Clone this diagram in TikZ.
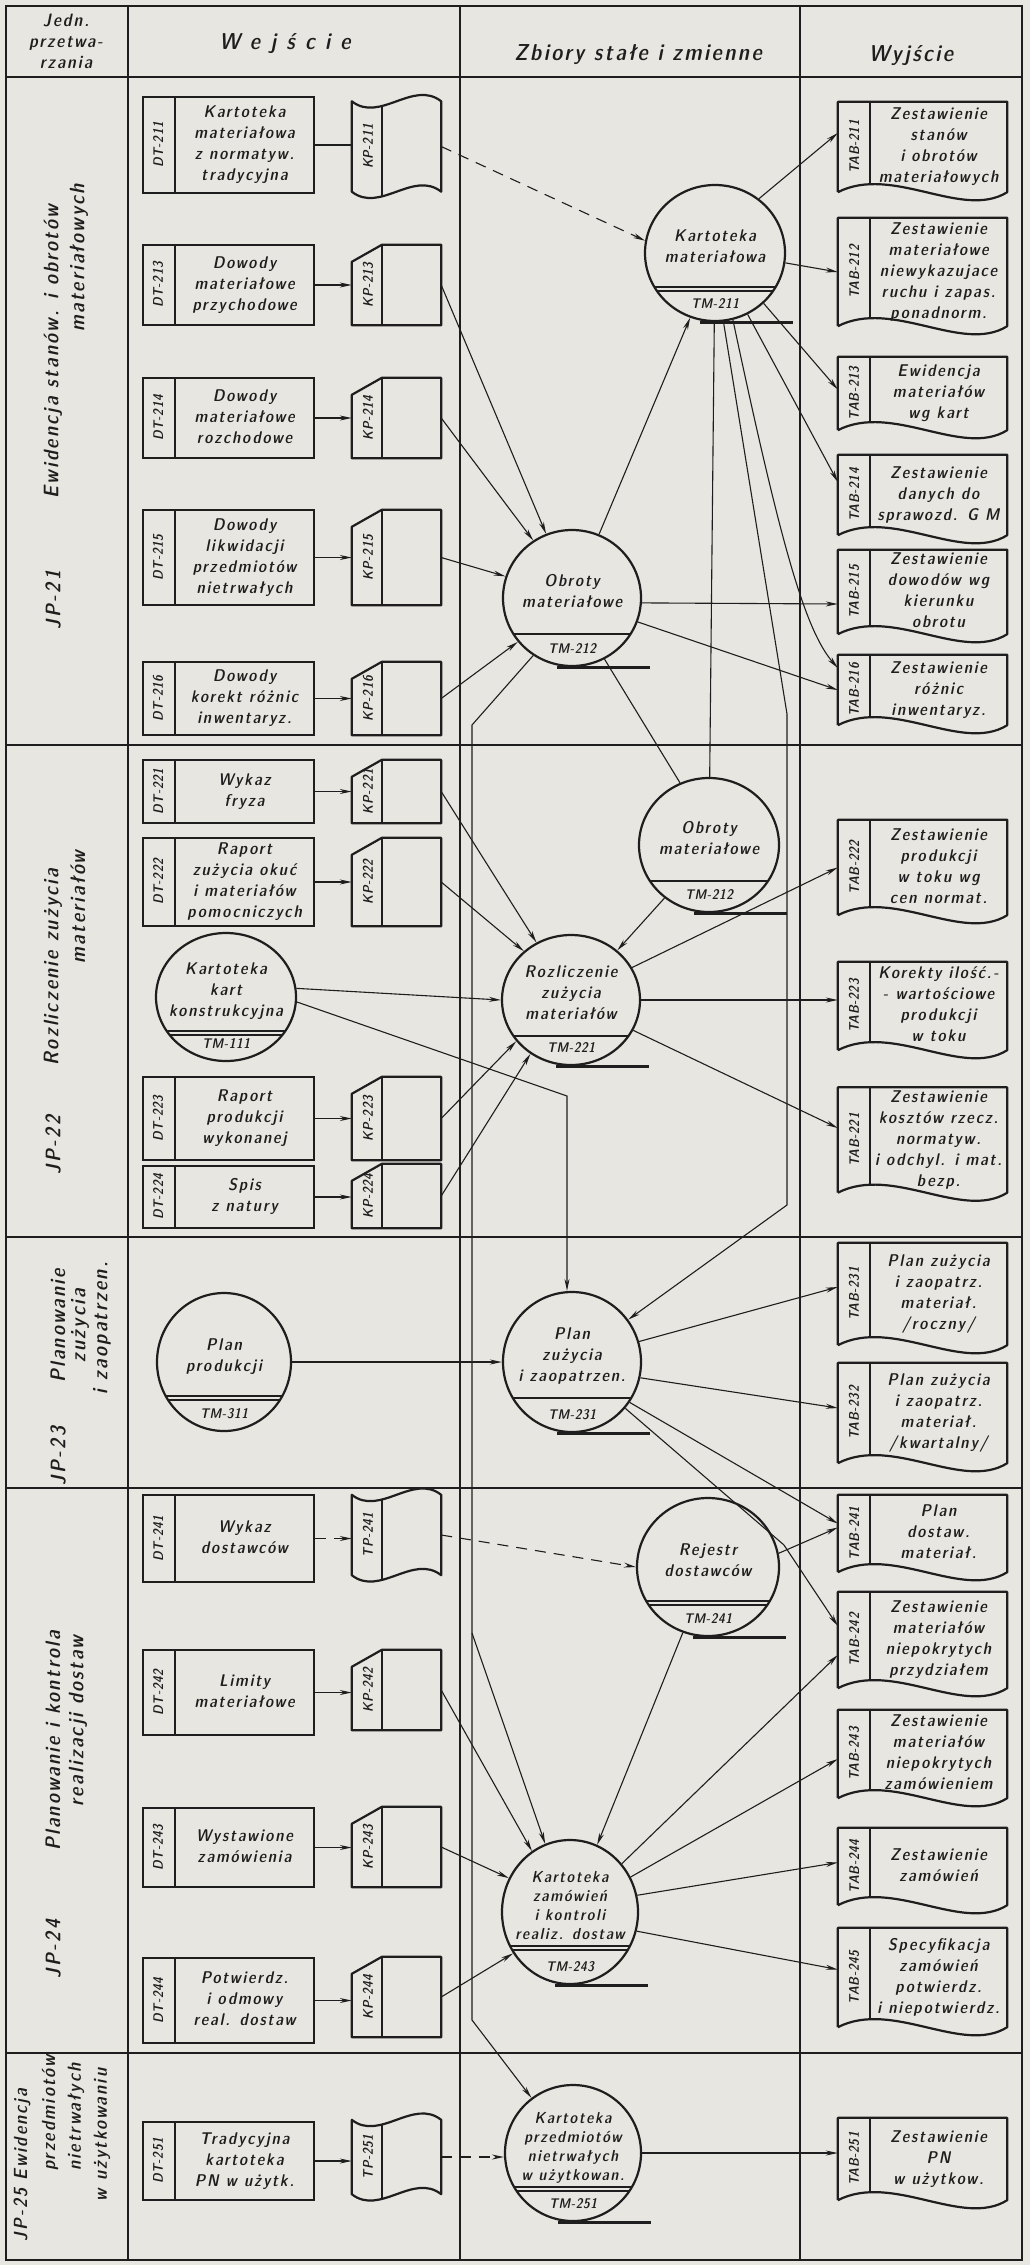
\documentclass[tikz,border=0pt]{standalone}
\usepackage{fontspec}
\usetikzlibrary{arrows.meta,shapes.geometric}

\newfontfamily\stencil{lmsansdemicond10-regular}[Extension=.otf,FakeSlant=0.2,LetterSpace=11]
\newcommand{\txt}{\stencil\fontsize{17}{21}\selectfont}
\newcommand{\smalltxt}{\stencil\fontsize{16}{19}\selectfont}
\newcommand{\codetxt}{\stencil\fontsize{14}{16}\selectfont\addfontfeatures{LetterSpace=4}}
\newcommand{\jptxt}{\stencil\fontsize{21}{25}\selectfont}
\newcommand{\headtxt}{\stencil\fontsize{23}{27}\selectfont}
\newcommand{\inbox}[1]{\hspace*{32pt}\begin{tabular}{@{}c@{}}#1\end{tabular}}

\definecolor{paper}{RGB}{232,230,224}
\definecolor{ink}{RGB}{30,30,30}

\tikzset{
  gridline/.style={draw=ink, line width=2pt},
  shapeline/.style={draw=ink, line width=2.2pt, line join=round},
  stripline/.style={draw=ink, line width=1.4pt},
  tapeline/.style={draw=ink, line width=3pt},
  flow/.style={draw=ink, line width=1.1pt, -{Stealth[length=12pt,width=5pt]}},
  dflow/.style={flow, dash pattern=on 11pt off 8pt},
  link/.style={draw=ink, line width=1.1pt},
  strip/.style={rotate=90, anchor=north, inner sep=0pt, minimum height=32pt, font=\codetxt, text=ink},
  idcode/.style={label={[strip]west:#1}},
  dtbox/.style={draw=ink, line width=2.2pt, rectangle, inner sep=0pt, minimum width=171pt,
    minimum height=#1, font=\txt, text=ink,
    path picture={\draw[stripline] ([xshift=32pt]path picture bounding box.north west)
      -- ([xshift=32pt]path picture bounding box.south west);}},
  card/.style={rectangle, inner sep=0pt, minimum width=89pt, minimum height=#1},
  tabdoc/.style={rectangle, inner sep=0pt, minimum width=169pt, minimum height=#1, font=\txt, text=ink},
  tmcode/.style={label distance=-24pt, inner sep=0pt, font=\codetxt, text=ink},
  tmfile/.style={ellipse, draw=ink, line width=2.2pt, inner sep=-45pt, align=center, text depth=14pt,
    font=\txt, text=ink, label={[tmcode]-90:#1},
    path picture={\draw[stripline] ([xshift=-100pt,yshift=-36pt]path picture bounding box.center) -- ++(200pt,0pt);}},
  tmfile2/.style={tmfile=#1,
    path picture={\draw[stripline] ([xshift=-100pt,yshift=-34pt]path picture bounding box.center) -- ++(200pt,0pt)
      ([xshift=-100pt,yshift=-38pt]path picture bounding box.center) -- ++(200pt,0pt);}},
  jplabel/.style={rotate=90, inner sep=0pt, font=\jptxt, text=ink},
  headtext/.style={inner sep=0pt, font=\headtxt, text=ink, align=center},
}

\begin{document}
\begin{tikzpicture}[x=1pt,y=-1pt]
\useasboundingbox (0,0) rectangle (1030,2265);
\fill[paper] (0,0) rectangle (1030,2265);

% Table
\draw[gridline] (6,6) rectangle (1022,2260);
\draw[gridline] (6,77) -- (1022,77);
\foreach \ry in {745,1237,1488,2053}
  \draw[gridline] (6,\ry) -- (1022,\ry);
\foreach \cx in {128,460,800}
  \draw[gridline] (\cx,6) -- (\cx,2260);

% Headings
\node[headtext, font=\stencil\fontsize{18}{21}\selectfont] (hjedn) at (66,41) {Jedn.\\przetwa-\\rzania};
\node[headtext] (hin) at (285,44) {{\addfontfeatures{LetterSpace=45}Wejście}};
\node[headtext] (hfiles) at (638,55) {Zbiory stałe i zmienne};
\node[headtext] (hout) at (911,56) {Wyjście};

% Processing units
\node[jplabel] (jp21) at (53,600) {JP-21};
\node[jplabel] (jp21a) at (53,352) {Ewidencja stanów. i obrotów};
\node[jplabel] (jp21b) at (79,258) {materiałowych};
\node[jplabel] (jp22) at (53,1145) {JP-22};
\node[jplabel] (jp22a) at (53,967) {Rozliczenie zużycia};
\node[jplabel] (jp22b) at (78,907) {materiałów};
\node[jplabel] (jp23) at (58,1456) {JP-23};
\node[jplabel] (jp23a) at (58,1326) {Planowanie};
\node[jplabel] (jp23b) at (80,1326) {zużycia};
\node[jplabel] (jp23c) at (102,1328) {i zaopatrzen.};
\node[jplabel] (jp24) at (53,1949) {JP-24};
\node[jplabel] (jp24a) at (53,1741) {Planowanie i kontrola};
\node[jplabel] (jp24b) at (78,1721) {realizacji dostaw};
\node[jplabel, font=\stencil\fontsize{19}{23}\selectfont] (jp25) at (22,2165) {JP-25 Ewidencja};
\node[jplabel, font=\stencil\fontsize{19}{23}\selectfont] (jp25b) at (50,2113) {przedmiotów};
\node[jplabel, font=\stencil\fontsize{19}{23}\selectfont] (jp25c) at (76,2117) {nietrwałych};
\node[jplabel, font=\stencil\fontsize{19}{23}\selectfont] (jp25d) at (102,2135) {w użytkowaniu};

% Input documents
\node[dtbox=96pt, idcode=DT-211] (dt211) at (228.5,145) {\inbox{Kartoteka\\materiałowa\\z normatyw.\\tradycyjna}};
\node[dtbox=80pt, idcode=DT-213] (dt213) at (228.5,285) {\inbox{Dowody\\materiałowe\\przychodowe}};
\node[dtbox=80pt, idcode=DT-214] (dt214) at (228.5,418) {\inbox{Dowody\\materiałowe\\rozchodowe}};
\node[dtbox=95pt, idcode=DT-215] (dt215) at (228.5,557.5) {\inbox{Dowody\\likwidacji\\przedmiotów\\nietrwałych}};
\node[dtbox=73pt, idcode=DT-216] (dt216) at (228.5,698.5) {\inbox{Dowody\\korekt różnic\\inwentaryz.}};
\node[dtbox=63pt, idcode=DT-221] (dt221) at (228.5,791.5) {\inbox{Wykaz\\fryza}};
\node[dtbox=88pt, idcode=DT-222] (dt222) at (228.5,882) {\inbox{Raport\\zużycia okuć\\i materiałów\\pomocniczych}};
\node[dtbox=83pt, idcode=DT-223] (dt223) at (228.5,1118.5) {\inbox{Raport\\produkcji\\wykonanej}};
\node[dtbox=62pt, idcode=DT-224] (dt224) at (228.5,1197) {\inbox{Spis\\z natury}};
\node[dtbox=87pt, idcode=DT-241] (dt241) at (228.5,1538.5) {\inbox{Wykaz\\dostawców}};
\node[dtbox=85pt, idcode=DT-242] (dt242) at (228.5,1692.5) {\inbox{Limity\\materiałowe}};
\node[dtbox=79pt, idcode=DT-243] (dt243) at (228.5,1847.5) {\inbox{Wystawione\\zamówienia}};
\node[dtbox=85pt, idcode=DT-244] (dt244) at (228.5,2000.5) {\inbox{Potwierdz.\\i odmowy\\real. dostaw}};
\node[dtbox=78pt, idcode=DT-251] (dt251) at (228.5,2161) {\inbox{Tradycyjna\\kartoteka\\PN w użytk.}};

% Punched cards and tapes
\node[card=90pt, idcode=KP-211] (kp211) at (396.5,146.5) {};
\node[card=80pt, idcode=KP-213] (kp213) at (396.5,285) {};
\node[card=80pt, idcode=KP-214] (kp214) at (396.5,418) {};
\node[card=95pt, idcode=KP-215] (kp215) at (396.5,557.5) {};
\node[card=73pt, idcode=KP-216] (kp216) at (396.5,698.5) {};
\node[card=63pt, idcode=KP-221] (kp221) at (396.5,791.5) {};
\node[card=88pt, idcode=KP-222] (kp222) at (396.5,882) {};
\node[card=83pt, idcode=KP-223] (kp223) at (396.5,1118.5) {};
\node[card=64pt, idcode=KP-224] (kp224) at (396.5,1196) {};
\node[card=80pt, idcode=TP-241] (tp241) at (396.5,1535) {};
\node[card=80pt, idcode=KP-242] (kp242) at (396.5,1690) {};
\node[card=80pt, idcode=KP-243] (kp243) at (396.5,1847) {};
\node[card=80pt, idcode=KP-244] (kp244) at (396.5,1997) {};
\node[card=74pt, idcode=TP-251] (tp251) at (396.5,2157) {};

\foreach \nd in {kp213,kp214,kp215,kp216,kp221,kp222,kp223,kp224,kp242,kp243,kp244}{
  \draw[shapeline] ([yshift=-17pt]\nd.north west) -- ([xshift=30pt]\nd.north west) -- (\nd.north east)
    -- (\nd.south east) -- (\nd.south west) -- cycle;
  \draw[stripline] ([xshift=30pt]\nd.north west) -- ([xshift=30pt]\nd.south west);
}
\foreach \nd in {kp211,tp241,tp251}{
  \draw[shapeline] (\nd.north west) .. controls +(28pt,-22pt) and +(-28pt,22pt) .. (\nd.north east)
    -- (\nd.south east) .. controls +(-28pt,22pt) and +(28pt,-22pt) .. (\nd.south west) -- cycle;
  \draw[stripline] ([xshift=30pt,yshift=-5pt]\nd.north west) -- ([xshift=30pt,yshift=-5pt]\nd.south west);
}

% Files
\node[tmfile2=TM-211, minimum width=140pt, minimum height=136pt] (km211) at (715,253) {Kartoteka\\materiałowa};
\node[tmfile=TM-212, minimum width=138pt, minimum height=136pt] (ob212a) at (572,598) {Obroty\\materiałowe};
\node[tmfile=TM-212, minimum width=140pt, minimum height=134pt] (ob212b) at (709,845) {Obroty\\materiałowe};
\node[tmfile=TM-221, minimum width=138pt, minimum height=130pt] (rz221) at (571,1000) {Rozliczenie\\zużycia\\materiałów};
\node[tmfile2=TM-111, minimum width=140pt, minimum height=128pt] (kk111) at (226,997) {Kartoteka\\kart\\konstrukcyjna};
\node[tmfile2=TM-311, minimum width=134pt, minimum height=138pt] (pp311) at (224,1362) {Plan\\produkcji};
\node[tmfile=TM-231, minimum width=138pt, minimum height=140pt] (pz231) at (572,1362) {Plan\\zużycia\\i zaopatrzen.};
\node[tmfile2=TM-241, minimum width=142pt, minimum height=138pt] (rd241) at (708,1567) {Rejestr\\dostawców};
\node[tmfile2=TM-243, minimum width=136pt, minimum height=144pt, font=\smalltxt] (kz243) at (570,1912) {Kartoteka\\zamówień\\i kontroli\\realiz. dostaw};
\node[tmfile2=TM-251, minimum width=136pt, minimum height=136pt, font=\smalltxt] (kn251) at (573,2153) {Kartoteka\\przedmiotów\\nietrwałych\\w użytkowan.};

\foreach \nd in {km211,ob212a,ob212b,rz221,pz231,rd241,kz243,kn251}
  \draw[tapeline] ([xshift=-15pt]\nd.south) -- ([xshift=78pt]\nd.south);

% Output lists
\node[tabdoc=90pt, idcode=TAB-211] (tab211) at (922.5,147) {\inbox{Zestawienie\\stanów\\i obrotów\\materiałowych}};
\node[tabdoc=108pt, idcode=TAB-212] (tab212) at (922.5,272) {\inbox{Zestawienie\\materiałowe\\niewykazujace\\ruchu i zapas.\\ponadnorm.}};
\node[tabdoc=73pt, idcode=TAB-213] (tab213) at (922.5,393.5) {\inbox{Ewidencja\\materiałów\\wg kart}};
\node[tabdoc=80pt, idcode=TAB-214] (tab214) at (922.5,495) {\inbox{Zestawienie\\danych do\\sprawozd. G M}};
\node[tabdoc=80pt, idcode=TAB-215] (tab215) at (922.5,592) {\inbox{Zestawienie\\dowodów wg\\kierunku\\obrotu}};
\node[tabdoc=70pt, idcode=TAB-216] (tab216) at (922.5,690) {\inbox{Zestawienie\\różnic\\inwentaryz.}};
\node[tabdoc=95pt, idcode=TAB-222] (tab222) at (922.5,867.5) {\inbox{Zestawienie\\produkcji\\w toku wg\\cen normat.}};
\node[tabdoc=88pt, idcode=TAB-223] (tab223) at (922.5,1006) {\inbox{Korekty ilość.-\\- wartościowe\\produkcji\\w toku}};
\node[tabdoc=100pt, idcode=TAB-221] (tab221) at (922.5,1140) {\inbox{Zestawienie\\kosztów rzecz.\\normatyw.\\i odchyl. i mat.\\bezp.}};
\node[tabdoc=102pt, idcode=TAB-231] (tab231) at (922.5,1294) {\inbox{Plan zużycia\\i zaopatrz.\\materiał.\\/roczny/}};
\node[tabdoc=100pt, idcode=TAB-232] (tab232) at (922.5,1413) {\inbox{Plan zużycia\\i zaopatrz.\\materiał.\\/kwartalny/}};
\node[tabdoc=77pt, idcode=TAB-241] (tab241) at (922.5,1533.5) {\inbox{Plan\\dostaw.\\materiał.}};
\node[tabdoc=96pt, idcode=TAB-242] (tab242) at (922.5,1640) {\inbox{Zestawienie\\materiałów\\niepokrytych\\przydziałem}};
\node[tabdoc=88pt, idcode=TAB-243] (tab243) at (922.5,1754) {\inbox{Zestawienie\\materiałów\\niepokrytych\\zamówieniem}};
\node[tabdoc=77pt, idcode=TAB-244] (tab244) at (922.5,1866.5) {\inbox{Zestawienie\\zamówień}};
\node[tabdoc=99pt, idcode=TAB-245] (tab245) at (922.5,1977.5) {\inbox{Specyfikacja\\zamówień\\potwierdz.\\i niepotwierdz.}};
\node[tabdoc=82pt, idcode=TAB-251] (tab251) at (922.5,2159) {\inbox{Zestawienie\\PN\\w użytkow.}};

\foreach \nd in {tab211,tab212,tab213,tab214,tab215,tab216,tab222,tab223,tab221,tab231,tab232,
                 tab241,tab242,tab243,tab244,tab245,tab251}{
  \draw[shapeline] (\nd.south west) -- (\nd.north west) -- (\nd.north east) -- (\nd.south east)
    .. controls +(-45pt,-28pt) and +(55pt,28pt) .. (\nd.south west);
  \draw[stripline] ([xshift=32pt]\nd.north west) -- ([xshift=32pt,yshift=7pt]\nd.south west);
}

% Bends
\coordinate (bendA) at (787,714);
\coordinate (bendB) at (787,1205);
\coordinate (bendC) at (567,1096);
\coordinate (bendD) at (784,1545);
\coordinate (trunkA) at (472,725);
\coordinate (trunkB) at (472,1633);
\coordinate (trunkC) at (472,2020);

% JP-21 flows
\draw[link] (dt211.east) -- (dt211.east -| kp211.west);
\draw[dflow] (kp211.east) -- (km211.170);
\draw[flow] (dt213.east) -- (dt213.east -| kp213.west);
\draw[flow] (dt214.east) -- (dt214.east -| kp214.west);
\draw[flow] (dt215.east) -- (dt215.east -| kp215.west);
\draw[flow] (dt216.east) -- (dt216.east -| kp216.west);
\draw[flow] (kp213.east) -- (ob212a.112);
\draw[flow] (kp214.east) -- (ob212a.124);
\draw[flow] (kp215.east) -- (ob212a.162);
\draw[flow] (kp216.east) -- (ob212a.219);
\draw[flow] (ob212a.67) -- (km211.249);
\draw[flow] (km211.51) -- ([yshift=14pt]tab211.west);
\draw[flow] (km211.-8) -- (tab212.west);
\draw[flow] (km211.-46) -- ([yshift=4pt]tab213.west);
\draw[flow] (km211.-62) -- ([yshift=13pt]tab214.west);
\draw[flow] (km211.-75) .. controls +(-78:230pt) and +(131:50pt) .. ([yshift=22pt]tab216.west);
\draw[flow] (km211.-83) -- (bendA) -- (bendB) -- (pz231.37);
\draw[link] (km211) -- (ob212b);
\draw[flow] (ob212a.-4) -- ([yshift=-12pt]tab215.west);
\draw[flow] (ob212a.-20) -- (tab216.west);
\draw[link] (ob212a.-62) -- (ob212b.115);
\draw[flow] (ob212a.236) -- (trunkA) -- (trunkC) -- (kn251.127);
\draw[flow] (trunkB) -- (kz243.110);

% JP-22 flows
\draw[flow] (dt221.east) -- (dt221.east -| kp221.west);
\draw[flow] (dt222.east) -- (dt222.east -| kp222.west);
\draw[flow] (dt223.east) -- (dt223.east -| kp223.west);
\draw[flow] (dt224.east) -- (dt224.east -| kp224.west);
\draw[flow] (kp221.east) -- (rz221.121);
\draw[flow] (kp222.east) -- (rz221.134);
\draw[flow] (kk111.7) -- (rz221.180);
\draw[flow] (kk111.-4) -- (bendC) -- (bendC |- pz231.north);
\draw[flow] (kp223.east) -- (rz221.217);
\draw[flow] (kp224.east) -- (rz221.233);
\draw[flow] (ob212b.230) -- (rz221.47);
\draw[flow] (rz221.28) -- (tab222.west);
\draw[flow] (rz221.east) -- (rz221.east -| tab223.west);
\draw[flow] (rz221.-26) -- ([yshift=12pt]tab221.west);

% JP-23 flows
\draw[flow] (pp311.east) -- (pp311.east -| pz231.west);
\draw[flow] (pz231.17) -- ([yshift=7pt]tab231.west);
\draw[flow] (pz231.-13) -- ([yshift=5pt]tab232.west);
\draw[flow] (pz231.-35) -- ([yshift=10pt]tab241.west);
\draw[flow] (pz231.-41) -- (bendD) -- ([yshift=14pt]tab242.west);

% JP-24 flows
\draw[dflow] (dt241.east) -- (dt241.east -| tp241.west);
\draw[dflow] (tp241.east) -- (rd241.west);
\draw[flow] (dt242.east) -- (dt242.east -| kp242.west);
\draw[flow] (dt243.east) -- (dt243.east -| kp243.west);
\draw[flow] (dt244.east) -- (dt244.east -| kp244.west);
\draw[flow] (kp242.east) -- (kz243.122);
\draw[flow] (kp243.east) -- (kz243.151);
\draw[flow] (kp244.east) -- (kz243.216);
\draw[flow] (rd241.249) -- (kz243.68);
\draw[flow] (rd241.11) -- ([yshift=6pt]tab241.west);
\draw[flow] (kz243.43) -- ([yshift=-15pt]tab242.west);
\draw[flow] (kz243.30) -- ([yshift=-5pt]tab243.west);
\draw[flow] (kz243.14) -- ([yshift=4pt]tab244.west);
\draw[flow] (kz243.-16) -- ([yshift=8pt]tab245.west);

% JP-25 flows
\draw[flow] (dt251.east) -- (dt251.east -| tp251.west);
\draw[dflow] (tp251.east) -- (tp251.east -| kn251.west);
\draw[flow] (kn251.east) -- (kn251.east -| tab251.west);

\end{tikzpicture}
\end{document}
